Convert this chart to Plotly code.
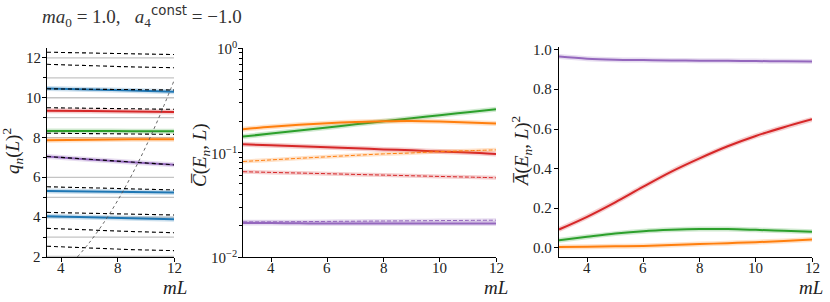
import math
import plotly.graph_objects as go

W, H = 830, 302

# ---------------- data ----------------
mL = [3, 4, 5, 6, 7, 8, 9, 10, 11, 12]
mL_lv = [3, 6, 9, 12]

# panel 1: free levels (gray), non-interacting levels (dashed), fitted levels (coloured)
free_levels = [2, 3, 4, 5, 6, 8, 9, 10, 11, 12]
dashed_levels = [
    [12.29, 12.24, 12.20, 12.17],
    [11.68, 11.60, 11.55, 11.51],
    [10.45, 10.43, 10.41, 10.39],
    [9.50, 9.47, 9.44, 9.42],
    [8.22, 8.20, 8.18, 8.16],
    [7.05, 6.90, 6.76, 6.63],
    [5.53, 5.47, 5.41, 5.37],
    [4.24, 4.19, 4.15, 4.11],
    [3.44, 3.35, 3.28, 3.22],
    [2.54, 2.44, 2.37, 2.32],
]
q2_blue_a = [10.46, 10.41, 10.36, 10.30]
q2_red = [9.35, 9.33, 9.31, 9.29]
q2_green = [8.33, 8.33, 8.32, 8.32]
q2_orange = [7.86, 7.89, 7.91, 7.92]
q2_purple = [7.05, 6.90, 6.76, 6.63]
q2_blue_b = [5.31, 5.29, 5.27, 5.24]
q2_blue_c = [4.05, 4.00, 3.95, 3.90]
thr_mL = [5.15, 6, 7, 8, 9, 10, 11, 12]
thr_q2 = [2.0, 2.72, 3.70, 4.83, 6.11, 7.54, 9.12, 10.86]

# panel 2: overlaps (log scale)
C_green = [0.142, 0.152, 0.1625, 0.1738, 0.186, 0.199, 0.213, 0.227, 0.243, 0.26]
C_orange = [0.167, 0.176, 0.184, 0.191, 0.196, 0.199, 0.200, 0.198, 0.194, 0.189]
C_red = [0.120, 0.117, 0.115, 0.112, 0.110, 0.107, 0.105, 0.102, 0.100, 0.097]
C_orange_d = [0.082, 0.085, 0.088, 0.091, 0.094, 0.097, 0.099, 0.102, 0.104, 0.106]
C_red_d = [0.0655, 0.0645, 0.0636, 0.0627, 0.0617, 0.0608, 0.0599, 0.0590, 0.0582, 0.0573]
C_purple_d = [0.0217, 0.0217, 0.0218, 0.0219, 0.0220, 0.0221, 0.0222, 0.0223, 0.0224, 0.0225]
C_purple = [0.0212, 0.0211, 0.0210, 0.0209, 0.0209, 0.0209, 0.0209, 0.0209, 0.0209, 0.0209]

# panel 3
A_purple = [0.966, 0.955, 0.950, 0.948, 0.946, 0.945, 0.944, 0.943, 0.942, 0.941]
A_red = [0.093, 0.157, 0.230, 0.309, 0.385, 0.452, 0.513, 0.565, 0.609, 0.649]
A_green = [0.039, 0.056, 0.072, 0.084, 0.091, 0.095, 0.095, 0.091, 0.086, 0.081]
A_orange = [0.004, 0.006, 0.008, 0.010, 0.014, 0.019, 0.024, 0.029, 0.035, 0.042]

# tick values / labels
x1_ticks = [4, 8, 12]
x_ticks = [4, 6, 8, 10, 12]
y1_ticks = [2, 4, 6, 8, 10, 12]
y1_minor = [3, 5, 7, 9, 11]
y2_ticks = [0.01, 0.1, 1]
y2_text = ["10<sup>\u22122</sup>", "10<sup>\u22121</sup>", "10<sup>0</sup>"]
y2_minor = [0.02, 0.03, 0.04, 0.05, 0.06, 0.07, 0.08, 0.09,
            0.2, 0.3, 0.4, 0.5, 0.6, 0.7, 0.8, 0.9]
y3_ticks = [0, 0.2, 0.4, 0.6, 0.8, 1.0]
y3_text = ["0.0", "0.2", "0.4", "0.6", "0.8", "1.0"]

BLUE, ORANGE, GREEN, RED, PURPLE = "#1f77b4", "#ff7f0e", "#2ca02c", "#d62728", "#9467bd"
FONT = "Liberation Serif"

fig = go.Figure()


def band_line(x, y, color, xa, ya, dash="solid", width=2.0):
    fig.add_trace(go.Scatter(x=x, y=y, mode="lines", xaxis=xa, yaxis=ya,
                             line=dict(color=color, width=width + 3, shape="spline"),
                             opacity=0.22, hoverinfo="skip", showlegend=False))
    fig.add_trace(go.Scatter(x=x, y=y, mode="lines", xaxis=xa, yaxis=ya,
                             line=dict(color=color, width=width, dash=dash, shape="spline"),
                             showlegend=False))


# ---- panel 1 ----
for lv in free_levels:
    fig.add_trace(go.Scatter(x=[3, 12], y=[lv, lv], mode="lines", xaxis="x", yaxis="y",
                             line=dict(color="#c4c4c4", width=1.3 if lv > 2 else 2.5),
                             showlegend=False, hoverinfo="skip"))
for xs, c in [(q2_blue_a, BLUE), (q2_red, RED), (q2_green, GREEN), (q2_orange, ORANGE),
              (q2_purple, PURPLE), (q2_blue_b, BLUE), (q2_blue_c, BLUE)]:
    band_line(mL_lv, xs, c, "x", "y", width=2.0)
for lv in dashed_levels:
    fig.add_trace(go.Scatter(x=mL_lv, y=lv, mode="lines", xaxis="x", yaxis="y",
                             line=dict(color="black", width=1.1, dash="4px,3px"),
                             showlegend=False))
fig.add_trace(go.Scatter(x=thr_mL, y=thr_q2, mode="lines", xaxis="x", yaxis="y",
                         line=dict(color="#555555", width=0.9, dash="dot", shape="spline"),
                         showlegend=False))

# ---- panel 2 ----
band_line(mL, C_green, GREEN, "x2", "y2")
band_line(mL, C_orange, ORANGE, "x2", "y2")
band_line(mL, C_red, RED, "x2", "y2")
band_line(mL, C_orange_d, ORANGE, "x2", "y2", dash="4px,2px", width=1.0)
band_line(mL, C_red_d, RED, "x2", "y2", dash="4px,2px", width=1.0)
band_line(mL, C_purple_d, PURPLE, "x2", "y2", dash="4px,2px", width=1.0)
band_line(mL, C_purple, PURPLE, "x2", "y2")

# ---- panel 3 ----
band_line(mL, A_purple, PURPLE, "x3", "y3")
band_line(mL, A_red, RED, "x3", "y3")
band_line(mL, A_green, GREEN, "x3", "y3")
band_line(mL, A_orange, ORANGE, "x3", "y3")


def dx(a, b):
    return [a / W, b / W]


def dy(top, bottom):
    return [1 - bottom / H, 1 - top / H]


axis_common = dict(showgrid=False, zeroline=False, showline=True, linecolor="black",
                   linewidth=1.1, ticks="outside", ticklen=4, tickwidth=1.1,
                   tickcolor="black", showticklabels=False)
minor_style = dict(ticks="outside", ticklen=2.5, tickwidth=0.8, tickcolor="black")

fig.update_layout(
    width=W, height=H, margin=dict(l=0, r=0, t=0, b=0),
    plot_bgcolor="white", paper_bgcolor="white", showlegend=False,
    font=dict(family=FONT), hovermode=False,
    xaxis=dict(domain=dx(47, 174), range=[3, 12], tickvals=x1_ticks, anchor="y",
               layer="below traces", **axis_common),
    yaxis=dict(domain=dy(48, 257), range=[2, 12.5], tickvals=y1_ticks, anchor="x",
               minor=dict(tickvals=y1_minor, **minor_style), **axis_common),
    xaxis2=dict(domain=dx(243, 496), range=[3, 12], tickvals=x_ticks, anchor="y2",
                **axis_common),
    yaxis2=dict(domain=dy(48, 257), type="log", range=[-2, 0], anchor="x2",
                tickvals=y2_ticks, minor=dict(tickvals=y2_minor, **minor_style),
                **axis_common),
    xaxis3=dict(domain=dx(559, 812), range=[3, 12], tickvals=x_ticks, anchor="y3",
                **axis_common),
    yaxis3=dict(domain=dy(47, 257), range=[-0.046, 1.014], anchor="x3",
                tickvals=y3_ticks, **axis_common),
)

tick_font = dict(family=FONT, size=15, color="#222")
ann_font = dict(family=FONT, size=19, color="#222")
annots = []
# tick labels as text
XT_Y = 1 - 268 / H
for xa, vals in [("x", x1_ticks), ("x2", x_ticks), ("x3", x_ticks)]:
    for v in vals:
        annots.append(dict(x=v, y=XT_Y, xref=xa, yref="paper", text=str(v),
                           xanchor="center", yanchor="middle", font=tick_font))
for ya, vals, texts, right in [("y", y1_ticks, [str(v) for v in y1_ticks], 43),
                               ("y2", y2_ticks, y2_text, 239),
                               ("y3", y3_ticks, y3_text, 554)]:
    for v, t in zip(vals, texts):
        yv = math.log10(v) if ya == "y2" else v
        annots.append(dict(x=right / W, y=yv, xref="paper", yref=ya, text=t,
                           xanchor="right", yanchor="middle", font=tick_font))

annots += [
    dict(x=40 / W, y=1 - 16 / H, xanchor="left", yanchor="middle",
         text="<i>ma</i><sub>0</sub> = 1.0,   <i>a</i><sub>4</sub><sup><span style=\"font-family:DejaVu Sans\">const</span></sup> = \u22121.0",
         font=dict(family=FONT, size=19, color="#333")),
    dict(x=12 / W, y=1 - 151 / H, textangle=-90, xanchor="center", yanchor="middle",
         text="<i>q<sub>n</sub></i>(<i>L</i>)<sup>2</sup>", font=ann_font),
    dict(x=201 / W, y=1 - 155 / H, textangle=-90, xanchor="center", yanchor="middle",
         text="<i>C\u0305</i>(<i>E<sub>n</sub></i>, <i>L</i>)", font=ann_font),
    dict(x=521 / W, y=1 - 152 / H, textangle=-90, xanchor="center", yanchor="middle",
         text="<i>A\u0305</i>(<i>E<sub>n</sub></i>, <i>L</i>)<sup>2</sup>", font=ann_font),
    dict(x=175 / W, y=1 - 287 / H, xanchor="center", yanchor="middle",
         text="<i>mL</i>", font=ann_font),
    dict(x=496 / W, y=1 - 287 / H, xanchor="center", yanchor="middle",
         text="<i>mL</i>", font=ann_font),
    dict(x=811 / W, y=1 - 287 / H, xanchor="center", yanchor="middle",
         text="<i>mL</i>", font=ann_font),
]
for a in annots:
    a.setdefault("xref", "paper")
    a.setdefault("yref", "paper")
    a["showarrow"] = False
fig.update_layout(annotations=annots)

fig.write_html("out.html", config={"displayModeBar": False},
               post_script="document.body.style.margin='0px';document.body.style.overflow='hidden';")
